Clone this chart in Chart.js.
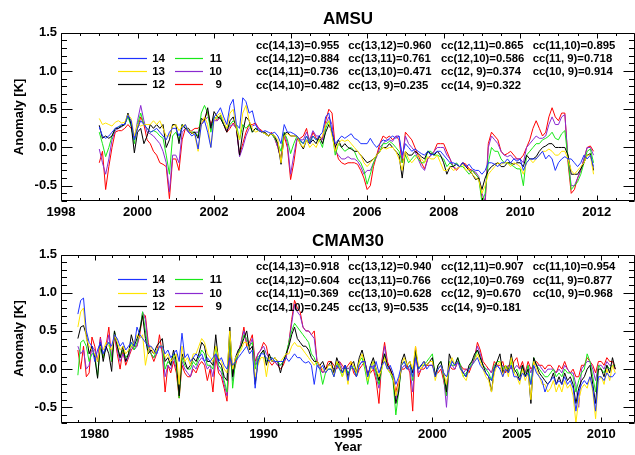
<!DOCTYPE html>
<html><head><meta charset="utf-8">
<script src="https://cdn.jsdelivr.net/npm/chart.js@4/dist/chart.umd.min.js"></script>
<style>
html,body{margin:0;padding:0;background:#fff;}
#wrap{position:relative;width:635px;height:455px;overflow:hidden;background:#fff;}
#c1{position:absolute;left:0;top:0;}
#c2{position:absolute;left:0;top:225px;}
</style></head><body>
<div id="wrap"><canvas id="c1" width="635" height="225"></canvas><canvas id="c2" width="635" height="230"></canvas></div>
<script>
// ---------------- DATA ----------------
const levels = ['14', '13', '12', '11', '10', '9'];

// AMSU: monthly anomalies, Jan 1999 .. Dec 2011
const amsuStart = 1999, amsuStep = 1 / 12;
const amsu14 = [
0.27,0.15,0.12,0.15,0.2,0.25,0.27,0.3,0.3,0.42,0.35,0.1,
0.25,0.35,0.3,0.25,0.2,0.22,0.25,0.2,0.15,0.1,0.2,0.25,
0.25,0.15,0.25,0.3,0.2,0.15,0.18,-0.02,0.3,0.35,0.2,0.0,
0.4,0.45,0.52,0.4,0.3,0.55,0.63,0.3,0.25,0.65,0.6,0.45,
0.48,0.3,0.22,0.2,0.22,0.2,0.18,0.2,0.15,0.05,0.3,0.2,
0.2,0.18,0.15,0.1,0.05,0.15,0.05,0.15,0.1,0.15,0.2,0.4,
0.45,0.2,0.05,0.1,0.15,0.12,0.15,0.18,0.12,0.1,0.05,0.05,
0.05,0.12,0.05,0.0,0.05,0.1,0.08,0.12,0.15,0.12,0.15,-0.1,
0.05,0.0,-0.05,-0.02,-0.05,-0.08,-0.1,-0.05,-0.1,-0.08,-0.05,-0.05,
-0.1,-0.15,-0.2,-0.2,-0.22,-0.25,-0.2,-0.25,-0.22,-0.28,-0.3,-0.3,
-0.35,-0.3,-0.2,-0.2,-0.22,-0.25,-0.2,-0.2,-0.15,-0.2,-0.15,-0.18,
-0.15,-0.3,-0.2,-0.15,-0.15,-0.15,-0.1,-0.05,-0.15,-0.1,-0.15,-0.3,
-0.2,-0.15,-0.12,-0.15,-0.15,-0.2,-0.25,-0.2,-0.1,-0.15,-0.1,-0.25];
const amsu13 = [
0.38,0.3,0.32,0.3,0.28,0.33,0.35,0.32,0.33,0.43,0.38,0.15,
0.3,0.28,0.3,0.3,0.3,0.35,0.3,0.35,0.25,0.15,0.15,0.28,
0.3,0.22,0.28,0.3,0.22,0.2,0.15,-0.05,0.3,0.4,0.3,0.0,
0.35,0.42,0.45,0.35,0.25,0.45,0.5,0.25,0.1,0.45,0.55,0.35,
0.25,0.2,0.22,0.2,0.18,0.15,0.18,0.15,0.1,-0.2,0.15,0.18,
0.15,0.15,0.15,0.05,0.0,0.1,0.0,0.05,0.0,0.1,0.15,0.3,
0.35,0.15,-0.05,0.05,0.1,0.08,0.1,0.05,0.0,-0.05,-0.1,-0.2,
-0.25,-0.2,-0.15,-0.1,-0.05,0.0,-0.02,0.0,0.0,-0.05,-0.15,-0.3,
-0.05,-0.15,-0.2,-0.15,-0.1,-0.15,-0.2,-0.12,-0.15,-0.15,-0.1,-0.2,
-0.3,-0.3,-0.25,-0.3,-0.28,-0.25,-0.22,-0.3,-0.28,-0.35,-0.4,-0.42,
-0.6,-0.5,-0.35,-0.3,-0.25,-0.2,-0.22,-0.2,-0.2,-0.25,-0.2,-0.22,
-0.25,-0.35,-0.2,-0.15,-0.2,-0.15,-0.1,-0.05,-0.05,-0.02,-0.05,-0.1,
-0.1,-0.05,-0.05,-0.15,-0.3,-0.35,-0.3,-0.25,-0.2,-0.1,-0.1,-0.35];
const amsu12 = [
0.29,0.12,0.15,0.12,0.15,0.25,0.25,0.28,0.3,0.45,0.3,-0.07,
0.2,0.25,0.05,0.15,0.3,0.25,0.3,0.25,0.3,0.0,0.1,0.3,
0.3,0.05,0.3,0.25,0.25,0.18,0.2,0.12,0.38,0.35,0.52,0.25,
0.47,0.4,0.38,0.3,0.2,0.35,0.4,0.25,-0.1,0.2,0.4,0.35,
0.2,0.25,0.22,0.2,0.2,0.15,0.18,0.15,0.05,-0.22,0.18,0.2,
0.15,0.15,0.15,0.05,-0.02,0.1,0.05,0.1,0.05,0.15,0.05,0.2,
0.3,0.2,0.0,0.1,0.0,0.05,0.0,-0.02,-0.05,-0.05,-0.1,-0.15,
-0.2,-0.18,-0.15,-0.1,-0.05,0.0,0.0,0.05,0.0,-0.05,-0.1,-0.4,
-0.05,-0.1,-0.1,-0.05,-0.08,-0.12,-0.15,-0.05,-0.08,-0.1,-0.05,-0.1,
-0.2,-0.35,-0.25,-0.25,-0.22,-0.25,-0.2,-0.25,-0.3,-0.35,-0.42,-0.4,
-0.55,-0.4,-0.3,-0.25,-0.22,-0.2,-0.25,-0.25,-0.2,-0.2,-0.22,-0.2,
-0.2,-0.25,-0.1,-0.15,-0.15,-0.12,-0.05,0.0,0.02,0.05,0.05,0.0,
0.0,0.0,0.0,-0.1,-0.35,-0.35,-0.35,-0.28,-0.2,-0.1,-0.08,-0.3];
const amsu11 = [
0.2,0.05,-0.12,0.0,0.15,0.24,0.27,0.28,0.3,0.4,0.28,0.05,
0.3,0.45,0.3,0.25,0.2,0.22,0.2,0.15,0.12,-0.1,-0.35,0.15,
0.2,0.1,0.3,0.25,0.22,0.2,0.2,0.15,0.45,0.55,0.45,0.2,
0.4,0.38,0.42,0.3,0.25,0.3,0.35,0.3,0.1,0.3,0.25,0.3,
0.2,0.25,0.22,0.2,0.18,0.15,0.18,0.12,0.05,-0.05,0.2,0.1,
-0.08,0.05,0.15,0.08,0.05,0.15,0.08,0.15,0.1,0.1,0.0,0.25,
0.35,0.2,-0.1,0.05,0.0,-0.05,-0.02,0.0,-0.05,-0.15,-0.2,-0.3,
-0.48,-0.35,-0.2,-0.1,-0.05,0.05,0.05,0.08,0.05,0.0,-0.05,-0.2,
-0.1,-0.2,-0.15,-0.1,-0.15,-0.2,-0.2,-0.05,-0.05,-0.1,-0.1,-0.12,
-0.15,-0.25,-0.2,-0.25,-0.2,-0.25,-0.25,-0.3,-0.35,-0.3,-0.35,-0.4,
-0.72,-0.6,-0.2,0.0,-0.05,-0.05,-0.15,-0.2,-0.2,-0.22,-0.25,-0.28,
-0.28,-0.5,-0.1,-0.05,0.0,0.05,0.05,0.1,0.12,0.15,0.2,0.12,
0.1,0.18,0.22,-0.15,-0.55,-0.5,-0.45,-0.35,-0.2,-0.05,-0.02,-0.2];
const amsu10 = [
-0.02,-0.2,-0.35,-0.15,0.1,0.22,0.25,0.27,0.3,0.42,0.3,0.1,
0.35,0.55,0.35,0.2,0.18,0.15,0.1,0.05,-0.05,-0.2,-0.58,-0.1,
-0.1,-0.2,0.2,0.25,0.2,0.2,0.2,0.2,0.3,0.35,0.4,0.3,
0.35,0.35,0.4,0.3,0.22,0.28,0.3,0.25,-0.12,0.0,0.15,0.25,
0.28,0.3,0.25,0.2,0.18,0.15,0.18,0.12,0.0,-0.15,0.2,0.05,
-0.35,-0.1,0.12,0.1,0.1,0.2,0.1,0.22,0.15,0.15,0.1,0.3,
0.4,0.3,-0.05,-0.1,-0.15,-0.15,-0.12,-0.15,-0.15,-0.18,-0.25,-0.35,
-0.3,-0.3,-0.2,-0.12,0.0,0.05,0.1,0.1,0.08,0.15,0.15,-0.15,
0.15,0.05,0.0,-0.05,-0.15,-0.25,-0.3,-0.15,-0.1,-0.05,0.0,0.0,
0.0,-0.1,-0.15,-0.25,-0.28,-0.25,-0.2,-0.25,-0.3,-0.3,-0.32,-0.38,
-0.6,-0.7,0.0,0.15,0.1,0.05,-0.05,-0.1,-0.12,-0.1,-0.15,-0.15,
-0.15,-0.2,0.0,0.05,0.1,0.15,0.12,0.12,0.15,0.3,0.4,0.3,
0.3,0.4,0.43,-0.15,-0.5,-0.5,-0.4,-0.3,-0.15,0.0,0.0,-0.1];
const amsu9 = [
-0.2,-0.05,-0.55,-0.25,0.0,0.2,0.22,0.22,0.25,0.3,0.25,0.12,
0.25,0.4,0.3,0.1,0.05,-0.05,-0.1,-0.2,-0.22,-0.25,-0.67,-0.15,
-0.15,-0.3,0.1,0.25,0.2,0.22,0.25,0.25,0.3,0.38,0.47,0.3,
0.4,0.35,0.42,0.3,0.2,0.25,0.32,0.25,-0.1,0.05,0.2,0.3,
0.3,0.32,0.25,0.22,0.18,0.15,0.2,0.12,0.0,-0.15,0.15,0.0,
-0.42,-0.2,0.1,0.12,0.15,0.25,0.05,0.2,0.12,0.1,0.12,0.35,
0.5,0.45,0.0,-0.15,-0.2,-0.22,-0.2,-0.2,-0.2,-0.22,-0.3,-0.4,
-0.55,-0.5,-0.25,-0.1,0.05,0.15,0.12,0.15,0.1,0.15,0.1,-0.2,
0.2,0.15,0.1,0.0,-0.1,-0.2,-0.28,-0.15,-0.1,-0.05,0.05,0.05,
0.05,-0.05,-0.15,-0.25,-0.3,-0.25,-0.2,-0.22,-0.28,-0.3,-0.35,-0.4,
-0.65,-0.75,0.05,0.2,0.15,0.1,-0.05,-0.1,-0.08,-0.05,-0.1,-0.15,
-0.15,-0.1,0.0,0.1,0.25,0.35,0.25,0.15,0.2,0.4,0.52,0.4,
0.35,0.45,0.45,-0.2,-0.6,-0.55,-0.4,-0.3,-0.15,0.0,0.02,-0.05];

// CMAM30: bimonthly anomalies, 1979 .. 2010
const cmamStart = 1979, cmamStep = 1 / 6;
const cmam14 = [
0.72,0.9,0.93,0.5,0.35,0.3,
0.1,0.25,0.35,0.2,0.3,0.35,
0.3,0.45,0.4,0.3,0.35,0.25,
0.3,0.35,0.3,0.55,0.45,0.4,
0.35,0.3,0.3,0.25,0.2,0.3,
0.3,0.2,0.25,0.15,0.2,0.25,
0.1,0.47,0.15,0.2,0.1,0.15,
0.2,0.15,0.2,0.1,0.15,0.1,
0.15,0.2,0.1,0.15,0.05,0.0,
0.15,0.05,0.1,0.15,0.2,0.25,
0.3,0.2,0.25,-0.25,0.1,0.2,
0.2,0.15,0.1,0.15,0.1,0.1,
0.1,0.1,0.15,0.1,0.15,0.2,
0.15,0.15,0.1,0.08,0.1,0.05,
-0.2,0.05,0.0,0.05,-0.05,0.0,
0.0,-0.1,0.05,0.0,-0.05,0.05,
-0.15,0.05,0.0,-0.1,0.05,0.1,
0.1,-0.1,0.05,0.0,0.1,-0.05,
0.05,0.1,0.0,0.05,-0.05,-0.2,
-0.1,0.05,0.1,0.0,0.05,-0.1,
0.15,0.0,0.05,0.1,0.0,0.05,
0.05,-0.1,0.0,0.05,-0.05,-0.1,
0.0,0.1,0.05,0.1,0.0,-0.05,
-0.1,0.0,0.05,0.1,0.15,0.05,
0.0,-0.05,-0.1,-0.15,0.0,0.05,
0.0,-0.1,0.0,-0.05,0.05,-0.1,
-0.1,-0.15,-0.05,-0.1,-0.05,-0.2,
0.05,-0.05,-0.1,-0.15,-0.3,-0.2,
-0.15,-0.1,-0.2,-0.15,-0.2,-0.1,
-0.2,-0.15,-0.25,-0.55,-0.3,-0.2,
-0.15,-0.2,-0.1,-0.25,-0.55,-0.1,
-0.1,-0.15,-0.05,-0.1,-0.1,-0.05];
const cmam13 = [
0.55,0.75,0.8,0.4,0.3,0.25,
0.2,0.1,0.3,0.25,0.35,0.3,
0.25,0.45,0.35,0.25,0.3,0.2,
0.25,0.3,0.35,0.45,0.4,0.45,
0.05,0.25,0.3,0.2,0.25,0.3,
0.3,0.15,0.2,0.1,0.15,0.2,
-0.2,0.3,0.1,0.15,0.05,0.2,
0.2,0.3,0.4,0.35,0.2,0.15,
0.1,0.3,0.15,0.1,0.0,-0.05,
0.5,0.0,0.15,0.2,0.25,0.35,
0.35,0.2,0.25,-0.1,0.05,0.15,
0.15,-0.1,0.15,0.1,0.15,0.1,
0.1,0.15,0.2,0.2,0.3,0.35,
0.3,0.3,0.25,0.2,0.15,0.1,
0.05,0.1,0.05,0.0,-0.05,0.05,
0.05,-0.1,0.1,0.05,-0.1,0.0,
-0.2,0.1,0.05,-0.05,0.1,0.2,
0.05,-0.15,0.0,0.1,0.0,-0.1,
0.0,0.15,0.0,-0.05,-0.1,-0.35,
-0.2,0.05,0.15,0.05,0.1,0.0,
0.3,0.05,0.0,0.1,0.05,0.1,
0.1,-0.15,0.0,0.05,-0.05,-0.2,
0.05,0.15,0.05,0.1,0.0,-0.1,
-0.15,0.0,0.05,0.1,0.2,0.1,
0.0,-0.1,-0.15,-0.3,-0.05,0.05,
0.1,-0.1,0.05,-0.1,0.15,-0.05,
-0.1,-0.2,0.0,-0.15,-0.05,-0.4,
0.1,0.0,-0.1,-0.2,-0.2,-0.3,
-0.25,-0.15,-0.3,-0.2,-0.3,-0.15,
-0.25,-0.2,-0.35,-0.7,-0.4,-0.25,
-0.2,-0.25,-0.1,-0.3,-0.65,-0.15,
-0.1,-0.2,0.0,-0.15,0.05,-0.05];
const cmam12 = [
0.4,0.55,0.57,0.45,0.2,0.3,
0.15,-0.12,0.35,0.1,0.3,0.2,
-0.03,0.5,0.3,0.15,0.3,0.1,
0.2,0.45,0.3,0.4,0.5,0.7,
0.4,0.2,0.25,0.2,0.3,0.35,
0.4,0.1,0.15,0.05,0.25,0.1,
-0.35,0.2,0.1,0.0,0.05,0.15,
0.1,0.2,0.35,0.3,0.1,0.1,
0.05,0.45,0.1,0.05,-0.1,-0.15,
0.55,-0.1,0.15,0.25,0.3,0.4,
0.5,0.25,0.3,-0.2,0.1,0.2,
0.25,0.05,0.2,0.1,0.15,0.1,
-0.05,0.1,0.2,0.3,0.45,0.55,
0.4,0.35,0.3,0.3,0.25,0.15,
0.1,0.1,0.05,0.1,0.0,0.05,
0.1,-0.05,0.15,0.05,-0.05,0.05,
-0.1,0.05,0.1,-0.05,0.15,0.25,
0.1,-0.1,0.05,0.15,0.0,-0.15,
0.05,0.2,0.05,0.0,-0.1,-0.45,
-0.3,0.1,0.2,0.05,0.1,-0.05,
0.25,0.0,0.05,0.1,0.05,0.1,
0.15,-0.1,0.05,0.1,-0.05,-0.3,
0.2,0.1,0.05,0.15,0.0,-0.05,
-0.1,0.05,0.1,0.2,0.25,0.15,
0.05,-0.05,-0.1,-0.3,0.0,0.1,
0.2,-0.05,0.05,-0.05,0.2,0.0,
-0.05,-0.15,0.05,-0.1,0.0,-0.45,
0.15,0.05,-0.05,-0.1,-0.15,-0.2,
-0.15,-0.05,-0.2,-0.1,-0.2,-0.05,
-0.15,-0.1,-0.2,-0.45,-0.25,-0.15,
-0.1,0.0,0.05,-0.2,-0.45,0.0,
0.0,-0.1,0.05,-0.05,0.15,0.0];
const cmam11 = [
-0.08,0.35,0.38,0.3,0.1,0.2,
0.2,-0.1,0.3,0.15,0.3,0.35,
0.1,0.5,0.3,0.15,0.25,0.15,
0.2,0.35,0.25,0.35,0.5,0.75,
0.5,0.25,0.2,0.15,0.25,0.3,
0.3,0.0,0.1,0.05,0.2,0.05,
-0.38,0.15,0.05,0.0,0.0,0.1,
0.05,0.15,0.25,0.2,0.05,0.05,
0.0,0.3,0.05,0.0,-0.15,-0.3,
0.45,-0.25,0.1,0.2,0.3,0.45,
0.4,0.3,0.35,0.0,0.15,0.2,
0.25,0.1,0.15,0.15,0.1,0.1,
0.05,0.1,0.2,0.35,0.5,0.6,
0.55,0.5,0.45,0.4,0.35,0.2,
0.15,0.05,0.0,-0.2,-0.05,0.0,
0.0,-0.1,0.1,0.0,-0.1,0.05,
-0.05,0.0,0.05,-0.1,0.1,0.15,
0.0,-0.2,0.0,0.1,-0.05,-0.2,
0.0,0.2,0.0,-0.05,-0.15,-0.6,
-0.3,0.05,0.1,0.0,0.05,-0.15,
0.25,0.0,0.05,0.05,0.1,0.15,
0.2,-0.1,0.05,0.1,-0.1,-0.35,
0.1,0.05,0.05,0.15,0.05,-0.1,
-0.05,0.0,0.1,0.15,0.25,0.15,
0.05,0.0,-0.05,-0.15,0.05,0.1,
0.1,0.0,0.05,0.0,0.1,-0.05,
0.0,-0.1,0.05,-0.1,0.05,-0.2,
0.15,0.05,0.0,-0.05,-0.1,-0.1,
-0.05,0.0,-0.1,-0.05,-0.1,0.0,
-0.05,-0.05,-0.1,-0.3,-0.15,-0.05,
0.0,0.2,0.1,-0.1,-0.3,0.05,
0.0,-0.05,0.05,0.0,0.05,0.05];
const cmam10 = [
0.3,0.2,0.25,0.0,0.05,0.3,
0.25,0.1,0.4,0.2,0.25,0.45,
0.15,0.48,0.25,0.1,0.2,0.1,
0.15,0.3,0.25,0.3,0.5,0.75,
0.65,0.3,0.2,0.15,0.2,0.3,
0.25,-0.1,0.05,0.0,0.15,0.0,
-0.3,0.1,0.0,-0.05,-0.1,0.05,
0.0,0.1,0.15,0.1,0.0,0.05,
-0.1,0.2,0.0,-0.05,-0.2,-0.35,
0.3,-0.15,0.1,0.2,0.35,0.5,
0.35,0.3,0.4,0.05,0.2,0.25,
0.3,0.2,0.15,0.1,0.1,0.05,
0.05,0.1,0.15,0.35,0.6,0.85,
0.75,0.7,0.55,0.5,0.5,0.45,
0.4,0.1,0.0,-0.05,0.0,0.05,
0.05,0.0,0.05,0.1,0.0,0.05,
0.0,0.05,0.0,-0.05,0.05,0.1,
0.05,-0.05,0.0,0.05,-0.1,-0.25,
0.05,0.3,0.05,-0.05,-0.1,-0.4,
-0.2,0.0,0.05,0.0,0.0,-0.3,
0.2,-0.05,0.0,0.05,0.05,0.1,
0.1,-0.05,0.0,0.05,-0.1,-0.5,
0.05,0.05,0.0,0.1,0.05,-0.05,
0.0,0.0,0.05,0.15,0.3,0.2,
0.05,0.0,0.0,-0.05,0.05,0.05,
0.0,0.05,0.0,0.05,0.05,0.0,
0.05,0.0,0.05,-0.05,0.05,-0.05,
0.1,0.05,0.05,0.0,-0.05,0.0,
0.0,0.0,-0.05,0.0,-0.05,0.05,
0.0,-0.05,-0.05,-0.2,-0.5,0.0,
0.05,0.1,0.1,0.0,-0.15,0.05,
0.05,0.0,0.1,0.05,0.05,0.0];
const cmam9 = [
0.25,0.0,0.3,-0.1,-0.05,0.42,
0.3,0.1,0.42,0.15,0.3,0.55,
0.1,0.45,0.2,0.0,0.25,0.05,
0.15,0.25,0.3,0.3,0.45,0.72,
0.7,0.35,0.2,0.1,0.2,0.45,
0.2,-0.3,0.05,-0.05,0.1,-0.05,
-0.38,0.05,-0.05,-0.1,-0.1,0.0,
-0.05,0.05,0.1,0.05,-0.15,0.0,
-0.3,0.15,-0.05,-0.1,-0.25,-0.42,
0.2,-0.1,0.05,0.2,0.35,0.55,
0.3,0.35,0.45,0.1,0.2,0.25,
0.35,0.3,0.1,0.05,0.1,0.05,
0.0,0.05,0.15,0.35,0.65,0.9,
0.8,0.75,0.55,0.5,0.5,0.45,
0.5,0.1,0.05,-0.05,0.0,0.1,
0.1,0.05,0.0,0.1,0.05,0.0,
0.05,0.1,-0.05,-0.1,0.0,0.05,
0.1,-0.05,-0.05,0.0,-0.15,-0.45,
0.1,0.35,0.1,0.0,-0.1,-0.3,
-0.15,0.0,0.0,0.05,-0.05,-0.55,
0.3,-0.1,0.0,0.0,0.05,0.05,
0.05,-0.05,-0.05,0.0,-0.15,-0.35,
0.05,0.0,0.0,0.1,0.05,0.0,
0.0,-0.05,0.05,0.15,0.35,0.25,
0.1,0.05,0.0,-0.05,0.1,0.05,
0.05,0.1,-0.05,0.05,0.0,0.1,
0.15,0.0,0.1,-0.05,0.1,0.0,
0.05,0.1,0.05,0.05,0.0,0.05,
0.05,0.0,-0.05,0.05,0.0,0.1,
0.0,-0.05,0.0,-0.1,-0.1,0.05,
0.05,0.15,0.1,0.05,-0.05,0.1,
0.1,0.05,0.15,0.1,0.1,0.0];

// Tick values / labels
const amsuXTicks = [1998, 2000, 2002, 2004, 2006, 2008, 2010, 2012];
const amsuXLabels = ['1998', '2000', '2002', '2004', '2006', '2008', '2010', '2012'];
const cmamXTicks = [1980, 1985, 1990, 1995, 2000, 2005, 2010];
const cmamXLabels = ['1980', '1985', '1990', '1995', '2000', '2005', '2010'];
const yTicks = [-0.5, 0, 0.5, 1.0, 1.5];
const yLabels = ['-0.5', '0.0', '0.5', '1.0', '1.5'];

// Correlation annotations
const amsuCC = [
  ['cc(14,13)=0.955', 'cc(13,12)=0.960', 'cc(12,11)=0.865', 'cc(11,10)=0.895'],
  ['cc(14,12)=0.884', 'cc(13,11)=0.761', 'cc(12,10)=0.586', 'cc(11, 9)=0.718'],
  ['cc(14,11)=0.736', 'cc(13,10)=0.471', 'cc(12, 9)=0.374', 'cc(10, 9)=0.914'],
  ['cc(14,10)=0.482', 'cc(13, 9)=0.235', 'cc(14, 9)=0.322']
];
const cmamCC = [
  ['cc(14,13)=0.918', 'cc(13,12)=0.940', 'cc(12,11)=0.907', 'cc(11,10)=0.954'],
  ['cc(14,12)=0.604', 'cc(13,11)=0.766', 'cc(12,10)=0.769', 'cc(11, 9)=0.877'],
  ['cc(14,11)=0.369', 'cc(13,10)=0.628', 'cc(12, 9)=0.670', 'cc(10, 9)=0.968'],
  ['cc(14,10)=0.245', 'cc(13, 9)=0.535', 'cc(14, 9)=0.181']
];

// ---------------- STYLE ----------------
const FAMILY = '"Liberation Sans", Arial, Helvetica, sans-serif';
const lineColors = ['#1e32ff', '#ffe400', '#000000', '#18e818', '#8a2ad0', '#ff0000'];
Chart.defaults.font.family = FAMILY;
Chart.defaults.color = '#000';

const idlBox = {
  id: 'idlBox',
  afterDraw(chart, args, o) {
    const { ctx, chartArea: a, scales: { x, y } } = chart;
    ctx.save();
    ctx.strokeStyle = '#000';
    ctx.lineWidth = 1;
    const L = Math.round(a.left) + 0.5, R = Math.round(a.right) - 0.5;
    const T = Math.round(a.top) + 0.5, B = Math.round(a.bottom) - 0.5;
    ctx.beginPath();
    ctx.rect(L, T, R - L, B - T);
    // y ticks (major every 0.5, minor every 0.1) on left and right
    for (let k = Math.ceil(y.min * 10 - 1e-6); k <= Math.floor(y.max * 10 + 1e-6); k++) {
      const v = k / 10;
      const major = Math.abs(v * 2 - Math.round(v * 2)) < 1e-6;
      const len = major ? 11 : 5.5;
      const py = Math.round(y.getPixelForValue(v)) + 0.5;
      ctx.moveTo(L, py); ctx.lineTo(L + len, py);
      ctx.moveTo(R, py); ctx.lineTo(R - len, py);
    }
    // x ticks on bottom and top
    const st = o.minorStep, ms = o.majorStep;
    for (let k = Math.ceil(x.min / st - 1e-6); k <= Math.floor(x.max / st + 1e-6); k++) {
      const v = k * st;
      const major = Math.abs(v / ms - Math.round(v / ms)) < 1e-6;
      const len = major ? 5 : 2.5;
      const px = Math.round(x.getPixelForValue(v)) + 0.5;
      ctx.moveTo(px, B); ctx.lineTo(px, B - len);
      ctx.moveTo(px, T); ctx.lineTo(px, T + len);
    }
    ctx.stroke();

    // legend (two columns of three)
    const lx = [[118, 147, 165], [175, 203, 222]];
    const ly = [24.8, 38.1, 51.4];
    ctx.font = 'bold 11.5px ' + FAMILY;
    ctx.textBaseline = 'middle';
    ctx.textAlign = 'right';
    chart.data.datasets.forEach((ds, i) => {
      const col = Math.floor(i / 3), row = i % 3;
      const yy = Math.round(a.top + ly[row]) + 0.5;
      ctx.strokeStyle = ds.borderColor;
      ctx.lineWidth = 1.2;
      ctx.beginPath();
      ctx.moveTo(lx[col][0], yy); ctx.lineTo(lx[col][1], yy);
      ctx.stroke();
      ctx.fillStyle = '#000';
      ctx.fillText(ds.label, lx[col][2], yy);
    });

    // correlation text
    const cx = [256, 348.3, 441, 532.7];
    const cy = [12.7, 26.1, 39.5, 53.0];
    ctx.font = 'bold 11.3px ' + FAMILY;
    ctx.textAlign = 'left';
    ctx.fillStyle = '#000';
    o.cc.forEach((row, r) => row.forEach((t, c) => ctx.fillText(t, cx[c], a.top + cy[r])));
    ctx.restore();
  }
};

function makeChart(id, cfg) {
  const series = cfg.series;
  return new Chart(document.getElementById(id), {
    type: 'line',
    data: {
      datasets: series.map((s, i) => ({
        label: levels[i],
        data: s.map((v, j) => ({ x: cfg.start + j * cfg.step, y: v })),
        borderColor: lineColors[i],
        borderWidth: 1,
        pointRadius: 0,
        tension: 0,
        fill: false
      }))
    },
    options: {
      responsive: false,
      animation: false,
      events: [],
      layout: { padding: 0 },
      plugins: {
        legend: { display: false },
        tooltip: { enabled: false },
        title: {
          display: true, text: cfg.title, fullSize: false, color: '#000',
          font: { size: 17, weight: 'bold', family: FAMILY, lineHeight: 1.2 },
          padding: { top: cfg.titleTop, bottom: cfg.titleBottom }
        },
        idlBox: { minorStep: cfg.minorStep, majorStep: cfg.majorStep, cc: cfg.cc }
      },
      scales: {
        x: {
          type: 'linear', min: cfg.xMin, max: cfg.xMax,
          grid: { display: false, drawTicks: false },
          border: { display: false },
          afterBuildTicks: s => { s.ticks = cfg.xTicks.map(v => ({ value: v })); },
          afterFit: s => { s.height = cfg.xHeight; },
          ticks: {
            autoSkip: false, maxRotation: 0, padding: 4, color: '#000',
            font: { size: 13, weight: 'bold', family: FAMILY },
            callback: (v, i) => cfg.xLabels[i]
          },
          title: cfg.xTitle ? {
            display: true, text: cfg.xTitle, color: '#000',
            font: { size: 13, weight: 'bold', family: FAMILY, lineHeight: 1.2 },
            padding: { top: 0, bottom: 0 }
          } : { display: false }
        },
        y: {
          type: 'linear', min: -0.7, max: 1.5,
          grid: { display: false, drawTicks: false },
          border: { display: false },
          afterBuildTicks: s => { s.ticks = yTicks.map(v => ({ value: v })); },
          afterFit: s => { s.width = 61; },
          ticks: {
            autoSkip: false, padding: 4, color: '#000',
            font: { size: 13, weight: 'bold', family: FAMILY },
            callback: (v, i) => yLabels[i]
          },
          title: {
            display: true, text: 'Anomaly [K]', color: '#000',
            font: { size: 13, weight: 'bold', family: FAMILY, lineHeight: 1.2 },
            padding: { top: 12, bottom: 0 }
          }
        }
      }
    },
    plugins: [idlBox]
  });
}

makeChart('c1', {
  title: 'AMSU', titleTop: 9, titleBottom: 3.4,
  series: [amsu14, amsu13, amsu12, amsu11, amsu10, amsu9],
  start: amsuStart, step: amsuStep,
  xMin: 1998, xMax: 2013, xTicks: amsuXTicks, xLabels: amsuXLabels,
  minorStep: 0.5, majorStep: 2, xHeight: 24, cc: amsuCC
});
makeChart('c2', {
  title: 'CMAM30', titleTop: 6, titleBottom: 3.1,
  series: [cmam14, cmam13, cmam12, cmam11, cmam10, cmam9],
  start: cmamStart, step: cmamStep,
  xMin: 1978, xMax: 2012, xTicks: cmamXTicks, xLabels: cmamXLabels,
  minorStep: 1, majorStep: 5, xHeight: 32.4, xTitle: 'Year', cc: cmamCC
});
</script>
</body></html>
